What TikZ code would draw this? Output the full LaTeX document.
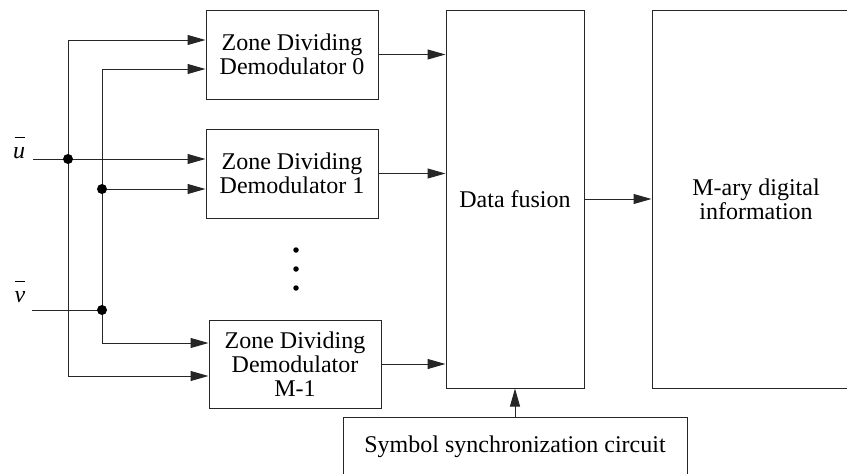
\documentclass[tikz,border=0pt]{standalone}
\usepackage{fontspec}
\setmainfont{Liberation Serif}
\usetikzlibrary{arrows.meta}
\tikzset{
  blk/.style={draw=black!85, line width=1pt, align=center, inner sep=0pt,
    font=\fontsize{24}{24}\selectfont},
  wire/.style={draw=black!85, line width=1pt},
  arr/.style={wire, -{Triangle[length=18pt,width=10pt]}},
  jdot/.style={circle, fill=black, inner sep=0pt, minimum size=10pt},
  sdot/.style={circle, fill=black, inner sep=0pt, minimum size=5.5pt},
  lbl/.style={inner sep=0pt, font=\fontsize{24}{24}\selectfont}
}
\begin{document}
\begin{tikzpicture}[x=1pt,y=-1pt]
\useasboundingbox (0,0) rectangle (847,474);
\clip (0,0) rectangle (847,474);
% blocks
\node[blk, minimum width=172pt, minimum height=89pt] (b0) at (292,54.5) {Zone Dividing\\Demodulator 0};
\node[blk, minimum width=172pt, minimum height=89pt] (b1) at (292,173.5) {Zone Dividing\\Demodulator 1};
\node[blk, minimum width=172pt, minimum height=88pt] (bm) at (295,364) {Zone Dividing\\Demodulator\\M-1};
\node[blk, minimum width=138pt, minimum height=378pt] (df) at (515,199) {Data fusion};
\node[blk, minimum width=208pt, minimum height=378pt] (ma) at (756,199) {M-ary digital\\information};
\node[blk, minimum width=344pt, minimum height=60pt] (ss) at (515,447) {Symbol synchronization circuit};
% labels
\node[lbl] (ul) at (19,148) {\textit{u}\llap{\raisebox{20pt}{\rule{10pt}{0.8pt}}\hspace{0.5pt}}};
\node[lbl] (vl) at (20,292) {\textit{v}\llap{\raisebox{20pt}{\rule{10pt}{0.8pt}}\hspace{0.5pt}}};
% coordinates
\coordinate (uin) at (33,159);
\coordinate (vin) at (32,310);
\coordinate (ja) at (68,159);
\coordinate (jb) at (102,310);
\coordinate (jc) at (102,189);
\coordinate (a0) at (68,40);
\coordinate (am) at (68,376);
\coordinate (c0) at (102,69);
\coordinate (cm) at (102,343);
% vertical buses
\draw[wire] (a0) -- (am);
\draw[wire] (c0) -- (cm);
% inputs
\draw[arr] (uin) -- (uin -| b1.west);
\draw[wire] (vin) -- (jb);
\draw[arr] (a0) -- (a0 -| b0.west);
\draw[arr] (c0) -- (c0 -| b0.west);
\draw[arr] (jc) -- (jc -| b1.west);
\draw[arr] (cm) -- (cm -| bm.west);
\draw[arr] (am) -- (am -| bm.west);
% junction dots
\node[jdot] (d1) at (ja) {};
\node[jdot] (d2) at (jb) {};
\node[jdot] (d3) at (jc) {};
% ellipsis dots
\node[sdot] (e1) at (296,250) {};
\node[sdot] (e2) at (296,269) {};
\node[sdot] (e3) at (296,288) {};
% outputs
\draw[arr] (b0.east) -- (b0.east -| df.west);
\draw[arr] (b1.east) -- (b1.east -| df.west);
\draw[arr] (bm.east) -- (bm.east -| df.west);
\draw[arr] (df.east) -- (ma.west);
\draw[arr] (ss.north) -- (df.south);
\end{tikzpicture}
\end{document}
